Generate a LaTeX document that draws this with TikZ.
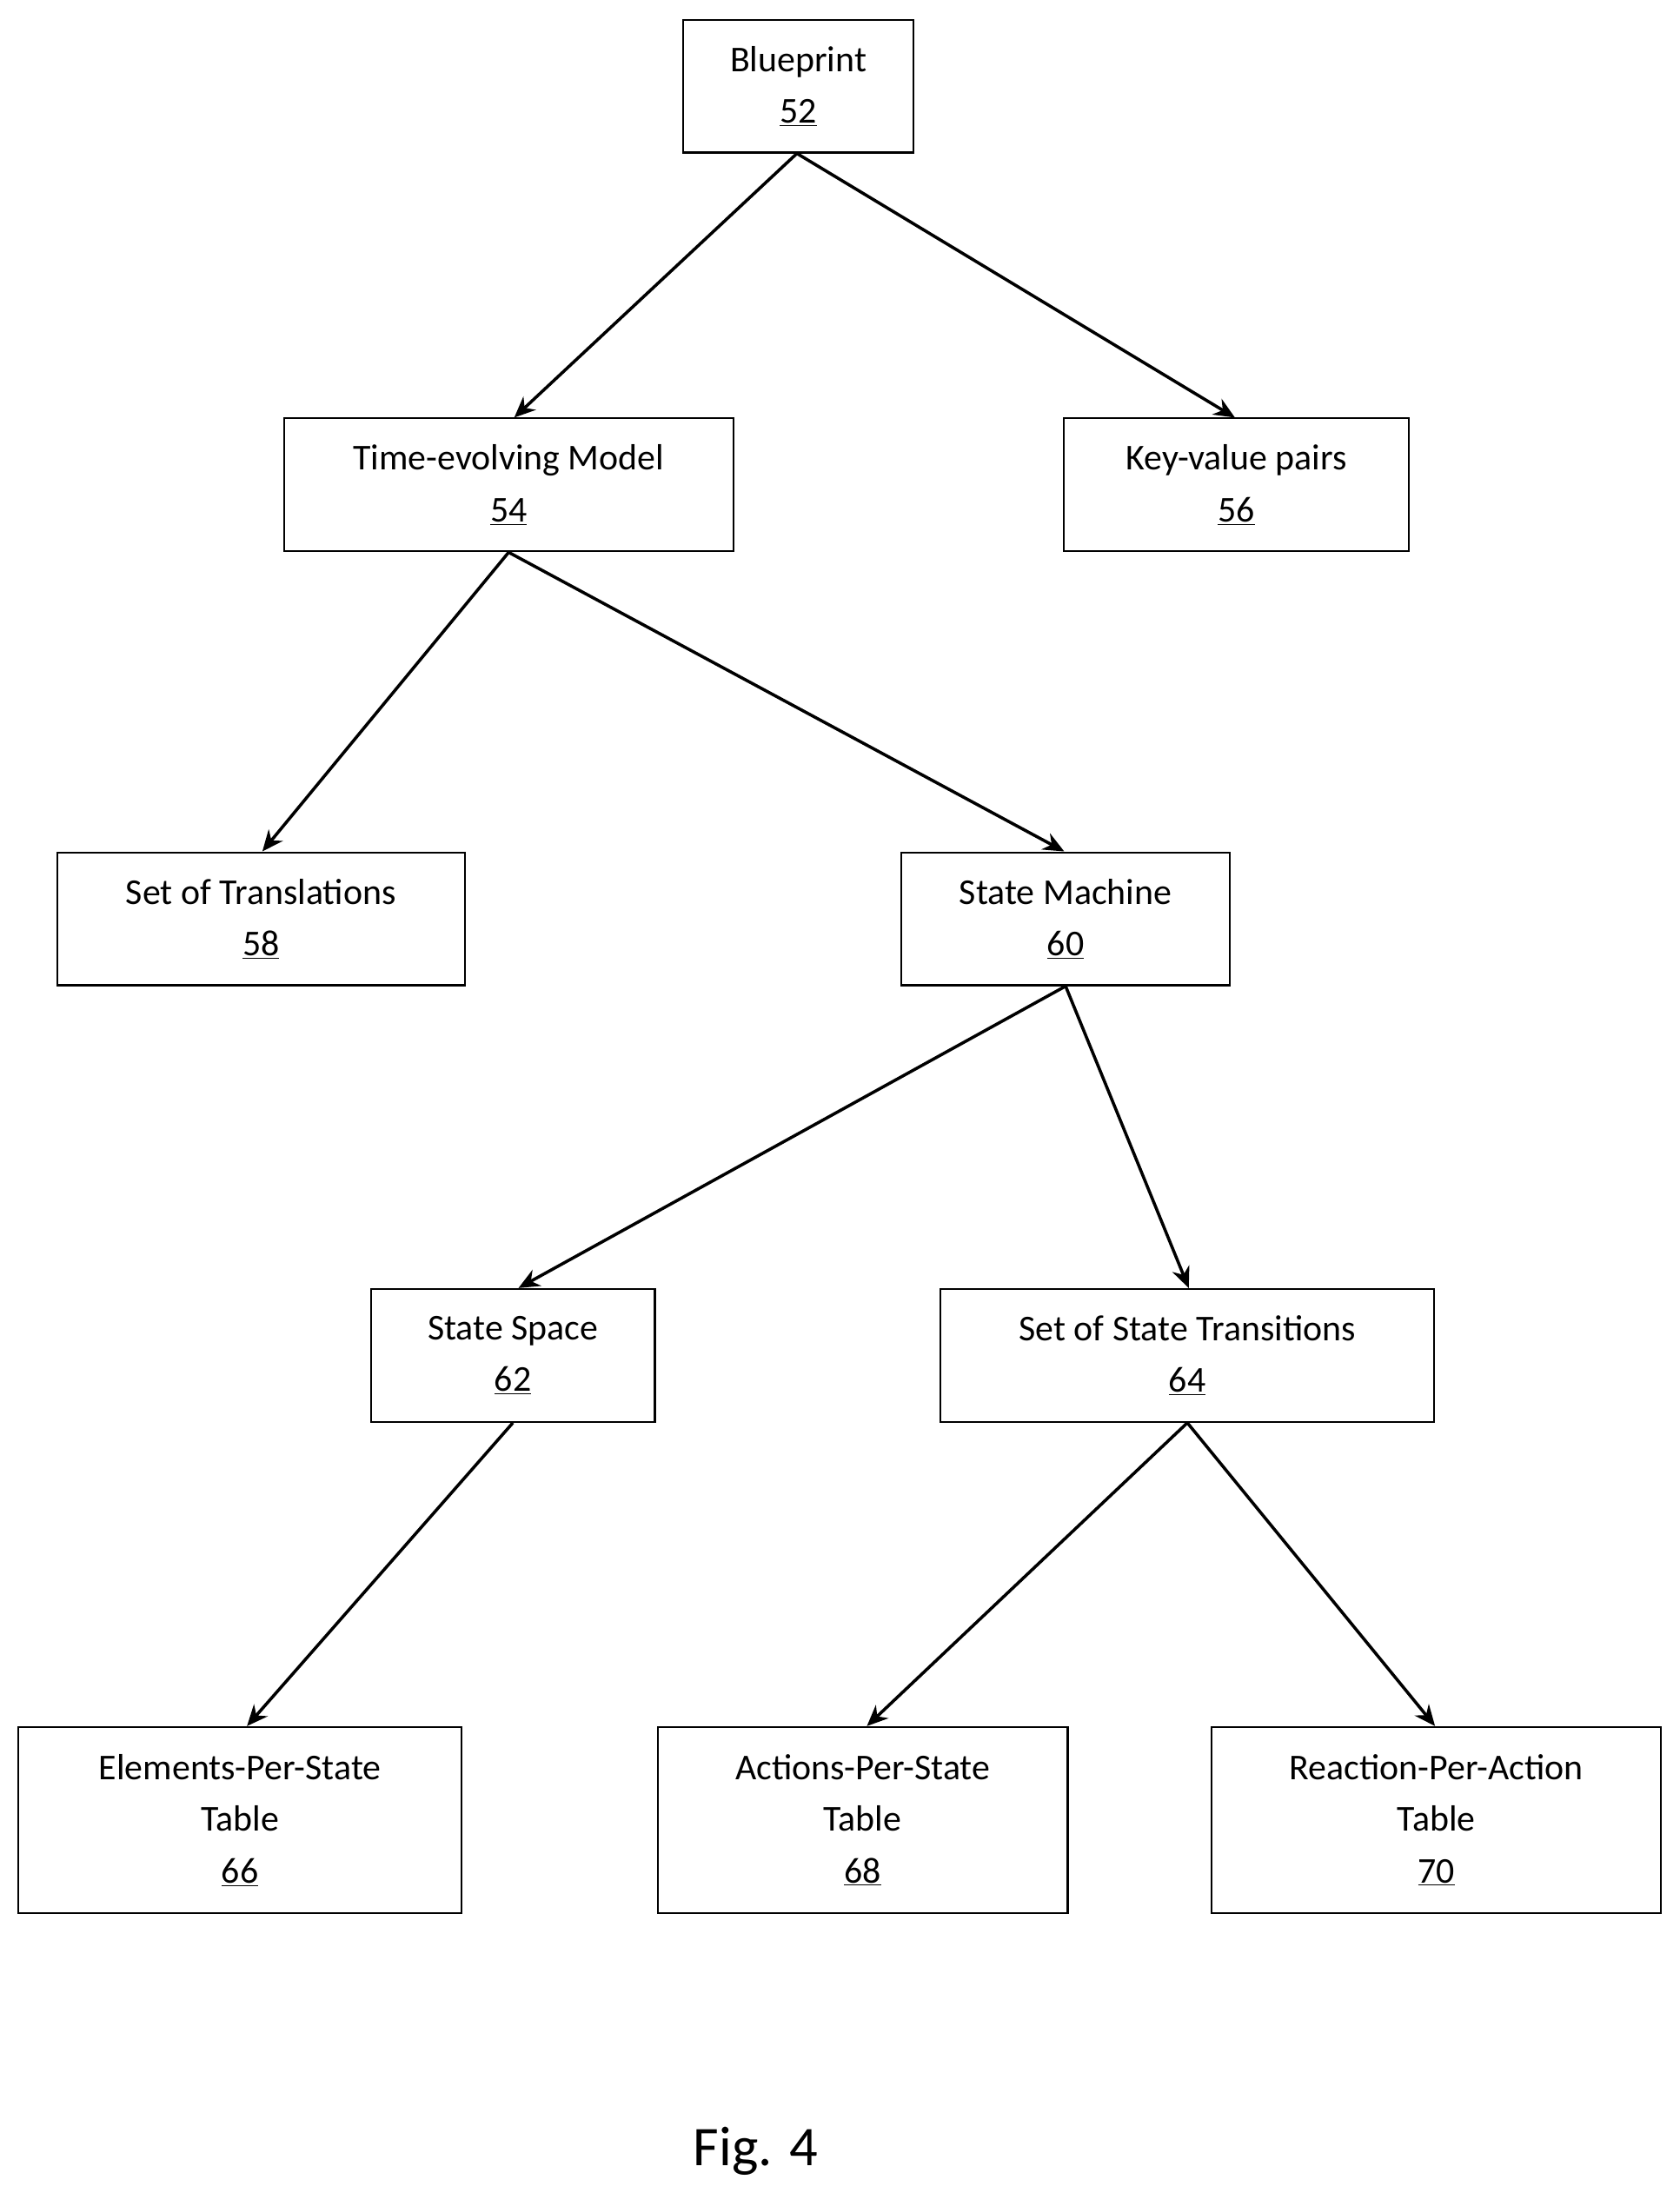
\documentclass[tikz,border=0pt]{standalone}
\usepackage{fontspec}
\setmainfont{Carlito}
\usetikzlibrary{arrows.meta}
\begin{document}
\begin{tikzpicture}[x=1pt,y=-1pt,
 box/.style={draw,line width=1.3pt,inner sep=0pt,align=center,font=\fontsize{26}{37}\selectfont},
 arr/.style={line width=2.2pt,-{Stealth[length=15pt,width=13pt]}}]
\useasboundingbox (0,0) rectangle (1200,1567);
\newcommand\bx[6]{\node[box,minimum width=#4-#3,minimum height=#6-#5] (#1) at ({(#3+#4)/2},{(#5+#6)/2}) {#2};}
\bx{b52}{Blueprint\\\underline{52}}{488}{653}{14}{109}
\bx{b54}{Time-evolving Model\\\underline{54}}{203}{524}{299}{394}
\bx{b56}{Key-value pairs\\\underline{56}}{760}{1007}{299}{394}
\bx{b58}{Set of Translations\\\underline{58}}{41}{332}{609}{704}
\bx{b60}{State Machine\\\underline{60}}{644}{879}{609}{704}
\bx{b62}{State Space\\\underline{62}}{265}{468}{921}{1016}
\bx{b64}{Set of State Transitions\\\underline{64}}{672}{1025}{921}{1016}
\bx{b66}{Elements-Per-State\\Table\\\underline{66}}{13}{330}{1234}{1367}
\bx{b68}{Actions-Per-State\\Table\\\underline{68}}{470}{763}{1234}{1367}
\bx{b70}{Reaction-Per-Action\\Table\\\underline{70}}{866}{1187}{1234}{1367}
\node[font=\fontsize{40}{48}\selectfont] (fig) at (540,1537) {Fig. 4};
\draw[arr] ([xshift=-1pt]b52.south) -- ([xshift=4pt]b54.north);
\draw[arr] ([xshift=-1pt]b52.south) -- ([xshift=-1pt]b56.north);
\draw[arr] (b54.south) -- ([xshift=1pt]b58.north);
\draw[arr] (b54.south) -- ([xshift=-1pt]b60.north);
\draw[arr] (b60.south) -- ([xshift=4pt]b62.north);
\draw[arr] (b60.south) -- ([xshift=1pt]b64.north);
\draw[arr] (b62.south) -- ([xshift=5pt]b66.north);
\draw[arr] (b64.south) -- ([xshift=3pt]b68.north);
\draw[arr] (b64.south) -- ([xshift=-1pt]b70.north);
\end{tikzpicture}
\end{document}
